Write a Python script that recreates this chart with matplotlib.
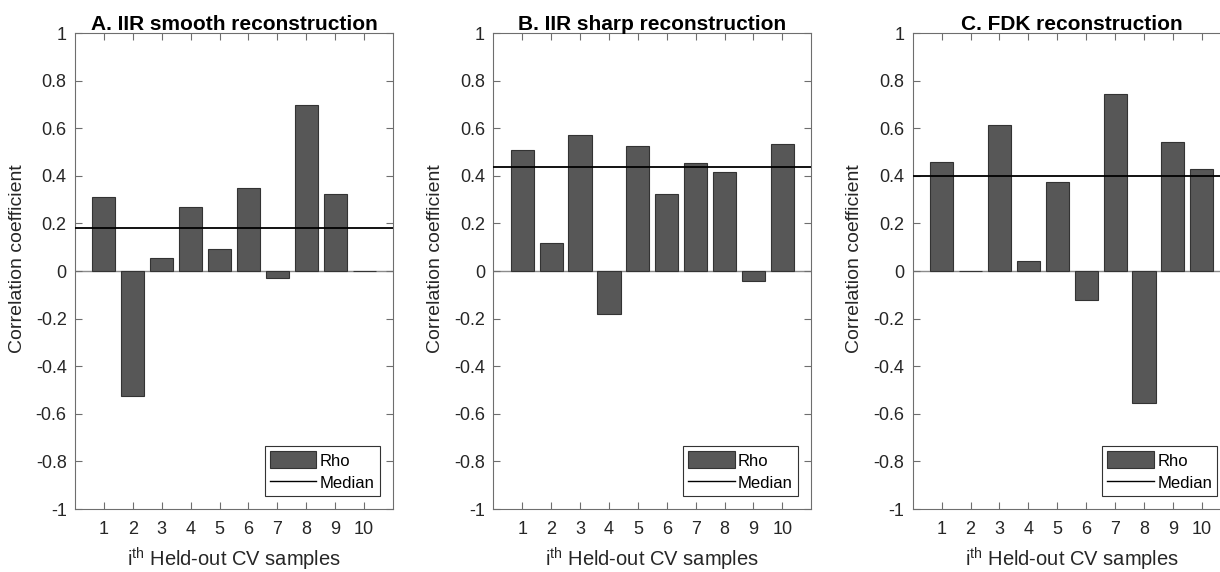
import numpy as np
import matplotlib
matplotlib.use('Agg')
import matplotlib.pyplot as plt
from matplotlib.patches import Patch
from matplotlib.lines import Line2D

plt.rcParams['font.family'] = ['Liberation Sans', 'DejaVu Sans']
plt.rcParams['axes.unicode_minus'] = False

# rho per held-out CV sample
samples = np.arange(1, 11)
rho_smooth = [0.31, -0.524, 0.053, 0.268, 0.092, 0.35, -0.031, 0.697, 0.323, 0.002]
rho_sharp = [0.508, 0.116, 0.573, -0.182, 0.527, 0.325, 0.455, 0.415, -0.041, 0.532]
rho_fdk = [0.458, -0.002, 0.612, 0.042, 0.373, -0.122, 0.744, -0.556, 0.543, 0.429]
titles = ['A. IIR smooth reconstruction', 'B. IIR sharp reconstruction', 'C. FDK reconstruction']
yticks = [-1, -0.8, -0.6, -0.4, -0.2, 0, 0.2, 0.4, 0.6, 0.8, 1]

bar_color = '#575757'
edge_color = '#333333'
axis_color = '#6e6e6e'
text_color = '#262626'

fig = plt.figure(figsize=(12.2, 5.72), dpi=100)
lefts = [75 / 1220, 493.3 / 1220, 912.7 / 1220]
w = 318 / 1220
b = 63 / 572
h = 476 / 572

for left, rho, title in zip(lefts, [rho_smooth, rho_sharp, rho_fdk], titles):
    ax = fig.add_axes([left, b, w, h])
    ax.axhline(0, color='#8c8c8c', lw=1.0, zorder=1)
    ax.bar(samples, rho, width=0.8, color=bar_color, edgecolor=edge_color, linewidth=0.8, zorder=2)
    med = np.median(rho)
    ax.axhline(med, color='black', lw=1.3, zorder=3)
    ax.set_xlim(0, 11)
    ax.set_ylim(-1, 1)
    ax.set_xticks(samples)
    ax.set_yticks(yticks)
    ax.set_yticklabels(['%g' % t for t in yticks])
    ax.tick_params(direction='in', top=True, right=True, length=5, width=0.8,
                   color=axis_color, labelcolor=text_color, labelsize=13, pad=6)
    ax.tick_params(axis='x', pad=9)
    for s in ax.spines.values():
        s.set_color(axis_color)
        s.set_linewidth(0.8)
    ax.set_title(title, fontsize=15, fontweight='bold', color='black', pad=2)
    ax.set_ylabel('Correlation coefficient', fontsize=14, color=text_color)
    ax.yaxis.set_label_coords(-0.155, 0.527)
    ax.set_xlabel(r'$\mathregular{i^{th}}$ Held-out CV samples', fontsize=14.5, color=text_color, labelpad=5)
    handles = [Patch(facecolor=bar_color, edgecolor=edge_color, linewidth=0.8),
               Line2D([0], [0], color='black', lw=1.0)]
    leg = ax.legend(handles, ['Rho', 'Median'], loc='lower right', fontsize=12,
                    fancybox=False, framealpha=1, edgecolor='#333333',
                    borderaxespad=0.8, handlelength=2.8, handleheight=1.2,
                    handletextpad=0.2, labelspacing=0.3, borderpad=0.3)
    leg.get_frame().set_linewidth(0.8)

fig.savefig('out.png', dpi=100)
